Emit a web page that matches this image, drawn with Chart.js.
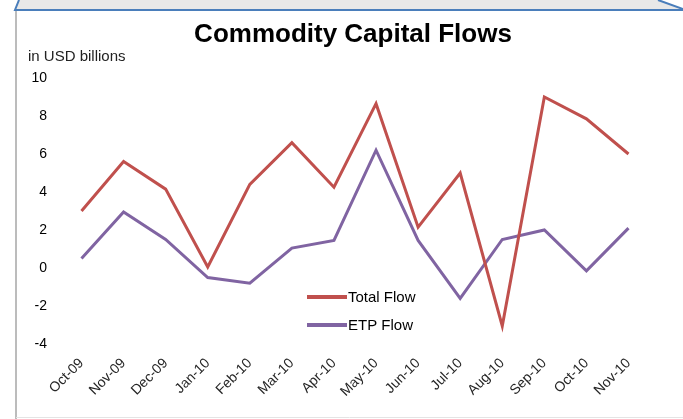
<!DOCTYPE html>
<html>
<head>
<meta charset="utf-8">
<script src="https://cdn.jsdelivr.net/npm/chart.js@4/dist/chart.umd.min.js"></script>
<style>
  html, body { margin: 0; padding: 0; background: #ffffff; }
  #wrap { position: relative; width: 683px; height: 419px; }
</style>
</head>
<body>
<div id="wrap"><canvas id="flowChart" width="683" height="419"></canvas></div>
<script>
const months = [
  "Oct-09", "Nov-09", "Dec-09", "Jan-10", "Feb-10", "Mar-10", "Apr-10",
  "May-10", "Jun-10", "Jul-10", "Aug-10", "Sep-10", "Oct-10", "Nov-10",
];
const totalFlow = [3.0, 5.6, 4.15, 0.05, 4.4, 6.6, 4.25, 8.65, 2.15, 5.0, -3.05, 9.0, 7.85, 6.0];
const etpFlow = [0.5, 2.95, 1.5, -0.5, -0.8, 1.05, 1.45, 6.2, 1.45, -1.6, 1.5, 2.0, -0.15, 2.1];
const yTicks = [-4, -2, 0, 2, 4, 6, 8, 10];

const FONT = "'Liberation Sans', Arial, sans-serif";

// grey band + borders around the chart, like the original worksheet shape
const framePlugin = {
  id: "frame",
  beforeDraw(chart) {
    const { ctx } = chart;
    ctx.save();
    ctx.fillStyle = "#e8e8e8";
    ctx.beginPath();
    ctx.moveTo(19, 0);
    ctx.lineTo(658, 0);
    ctx.lineTo(683, 9);
    ctx.lineTo(15, 9);
    ctx.closePath();
    ctx.fill();

    ctx.strokeStyle = "#4a7ebb";
    ctx.lineWidth = 2;
    ctx.beginPath();
    ctx.moveTo(19, 0);
    ctx.lineTo(15, 10);
    ctx.lineTo(683, 10);
    ctx.moveTo(658, 0);
    ctx.lineTo(683, 9);
    ctx.stroke();

    ctx.strokeStyle = "#a6a6a6";
    ctx.lineWidth = 1.5;
    ctx.beginPath();
    ctx.moveTo(16, 11);
    ctx.lineTo(16, 419);
    ctx.stroke();

    ctx.strokeStyle = "#e4e4e4";
    ctx.lineWidth = 1;
    ctx.beginPath();
    ctx.moveTo(16, 417.5);
    ctx.lineTo(683, 417.5);
    ctx.stroke();
    ctx.restore();
  },
  afterDraw(chart) {
    const { ctx } = chart;
    ctx.save();
    ctx.fillStyle = "#000000";
    ctx.textBaseline = "alphabetic";
    ctx.textAlign = "center";
    ctx.font = "bold 26px " + FONT;
    ctx.fillText("Commodity Capital Flows", 353, 42);

    ctx.textAlign = "left";
    ctx.font = "15px " + FONT;
    ctx.fillStyle = "#222222";
    ctx.fillText("in USD billions", 28, 61);

    // legend inside the plot
    chart.data.datasets.forEach((ds, i) => {
      const y = 297 + i * 28;
      ctx.strokeStyle = ds.borderColor;
      ctx.lineWidth = 4;
      ctx.beginPath();
      ctx.moveTo(307, y);
      ctx.lineTo(347, y);
      ctx.stroke();
      ctx.fillStyle = "#000000";
      ctx.font = "15px " + FONT;
      ctx.textBaseline = "middle";
      ctx.fillText(ds.label, 348, y + 1);
    });
    ctx.restore();
  },
};

new Chart(document.getElementById("flowChart"), {
  type: "line",
  plugins: [framePlugin],
  data: {
    labels: months,
    datasets: [
      {
        label: "Total Flow",
        data: totalFlow,
        borderColor: "#c0504d",
        borderWidth: 3,
        pointRadius: 0,
        tension: 0,
      },
      {
        label: "ETP Flow",
        data: etpFlow,
        borderColor: "#8064a2",
        borderWidth: 3,
        pointRadius: 0,
        tension: 0,
      },
    ],
  },
  options: {
    responsive: false,
    animation: false,
    layout: { padding: { top: 78, right: 54.5, left: 0, bottom: 0 } },
    plugins: {
      legend: { display: false },
      tooltip: { enabled: false },
    },
    scales: {
      x: {
        offset: false,
        grid: { display: false, drawTicks: false },
        border: { display: false },
        ticks: {
          color: "#262626",
          font: { size: 14, family: FONT },
          maxRotation: 45,
          minRotation: 45,
          autoSkip: false,
          padding: 11,
        },
        afterFit: (scale) => {
          scale.height = 75;
        },
      },
      y: {
        min: -4,
        max: 10,
        grid: { display: false, drawTicks: false },
        border: { display: false },
        afterBuildTicks: (scale) => {
          scale.ticks = yTicks.map((v) => ({ value: v }));
        },
        ticks: {
          color: "#000000",
          font: { size: 14, family: FONT },
          padding: 34.5,
        },
        afterFit: (scale) => {
          scale.width = 81.5;
        },
      },
    },
  },
});
</script>
</body>
</html>
